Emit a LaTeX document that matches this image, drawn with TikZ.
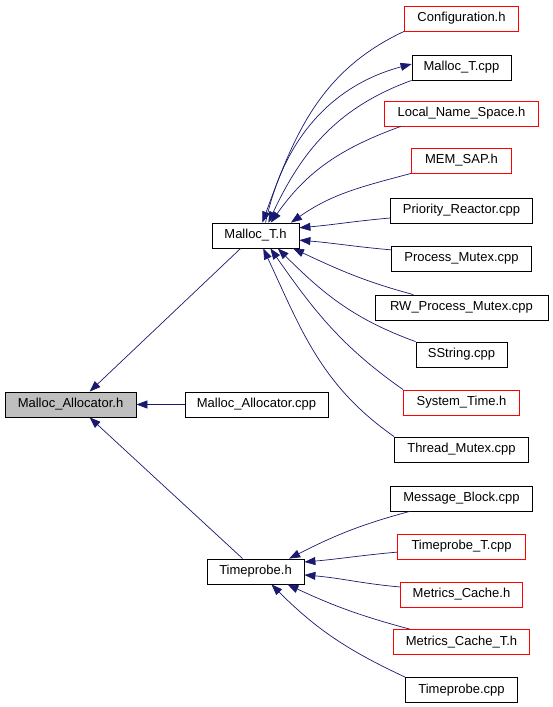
\documentclass[tikz,border=0pt]{standalone}
\usepackage{fontspec}
\setmainfont{Liberation Sans}
\usetikzlibrary{arrows.meta}
\definecolor{midnightblue}{HTML}{191970}
\definecolor{boxgray}{HTML}{BFBFBF}

\begin{document}
\begin{tikzpicture}[x=1pt,y=1pt,
  file/.style={draw=black, line width=0.8pt, minimum height=25pt, inner sep=0pt,
    font=\fontsize{13}{15}\selectfont},
  dep/.style={draw=midnightblue, line width=0.7pt, -{Triangle[length=11pt,width=8pt]}}]
  \useasboundingbox (0,0) rectangle (552,-707);
  % left and middle
  \node[file, fill=boxgray, minimum width=131pt] (malloca) at (70.5,-404.5) {Malloc\_Allocator.h};
  \node[file, minimum width=143pt] (mallocacpp) at (256.5,-404.5) {Malloc\_Allocator.cpp};
  \node[file, minimum width=87pt] (malloct) at (255.5,-235.5) {Malloc\_T.h};
  \node[file, minimum width=97pt] (tp) at (255.5,-571.5) {Timeprobe.h};
  % right column
  \foreach \nm/\y/\w/\clr/\lbl in {cfg/18.5/114/red/Configuration.h,
      mtcpp/67.5/99/black/Malloc\_T.cpp, lns/113.5/154/red/Local\_Name\_Space.h,
      memsap/160.5/100/red/MEM\_SAP.h, pr/210.5/142/black/Priority\_Reactor.cpp,
      pm/258.5/140/black/Process\_Mutex.cpp, rw/307.5/173/black/RW\_Process\_Mutex.cpp,
      ss/354.5/91/black/SString.cpp, st/402.5/116/red/System\_Time.h,
      tm/449.5/134/black/Thread\_Mutex.cpp, mb/498.5/142/black/Message\_Block.cpp,
      tpt/546.5/128/red/Timeprobe\_T.cpp, mc/594.5/122/red/Metrics\_Cache.h,
      mct/642/136/red/Metrics\_Cache\_T.h, tpc/690/112/black/Timeprobe.cpp} {
    \node[file, draw=\clr, minimum width=\w pt] (\nm) at (461.5,-\y) {\lbl};
  }
  % includes of Malloc_T.h
  \draw[dep] (malloct.52) to[out=78,in=195] (mtcpp.176);
  \foreach \src/\sa/\ta/\o/\i in {cfg/south west/62/205/70, mtcpp/south west/45/200/65,
      lns/192/40/200/55, memsap/south west/20/195/35, pr/186/10/185/5,
      pm/173/-6/175/-5, rw/165/-19/165/-25, ss/north west/-30/160/-45,
      st/north west/-41/145/-55, tm/north west/-59/145/-65} {
    \draw[dep] (\src.\sa) to[out=\o,in=\i] (malloct.\ta);
  }
  % includes of Timeprobe.h
  \foreach \src/\sa/\ta/\o/\i in {mb/194/21/195/27, tpt/185/11/185/5,
      mc/173/-4/175/-5, mct/166/-22/165/-25, tpc/north west/-39/155/-45} {
    \draw[dep] (\src.\sa) to[out=\o,in=\i] (tp.\ta);
  }
  % includes of Malloc_Allocator.h
  \draw[dep] (mallocacpp) -- (malloca);
  \draw[dep] (malloct.221) -- (malloca.34);
  \draw[dep] (tp.135) -- (malloca.-34);
\end{tikzpicture}
\end{document}
